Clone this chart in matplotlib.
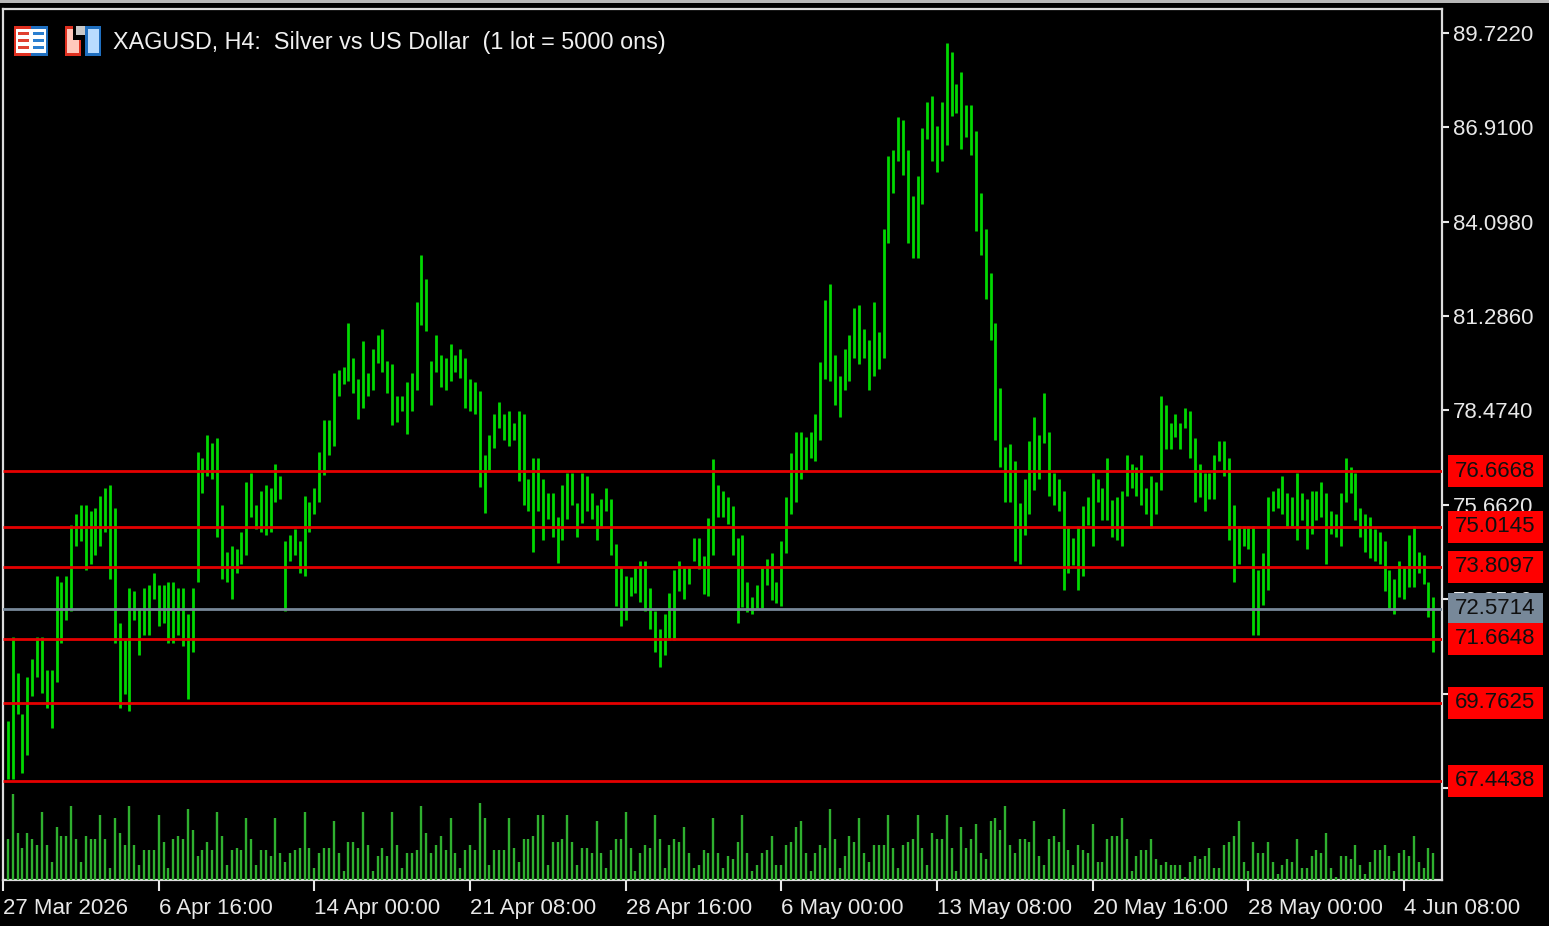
import numpy as np
import matplotlib
matplotlib.use('Agg')
import matplotlib.pyplot as plt
from matplotlib.patches import Rectangle

plt.rcParams['font.family'] = ['Liberation Sans', 'DejaVu Sans']

# H4 bar highs
high = [69.22, 71.71, 70.64, 69.43, 70.54, 71.08, 71.71, 71.71, 70.74, 70.74,
        73.54, 73.36, 73.54, 75.06, 75.39, 75.65, 75.65, 75.47, 75.56, 75.92,
        76.17, 76.26, 75.56, 72.13, 71.62, 73.19, 73.10, 72.58, 73.19, 73.28,
        73.62, 73.28, 73.28, 73.36, 73.36, 73.19, 73.19, 72.40, 73.19, 77.23,
        77.05, 77.75, 77.49, 77.66, 75.65, 74.25, 74.42, 74.34, 74.85, 76.35,
        76.61, 75.65, 76.08, 76.26, 76.17, 76.88, 76.53, 74.59, 74.77, 74.95,
        74.59, 75.92, 75.74, 76.17, 77.23, 78.19, 78.19, 79.60, 79.68, 79.76,
        81.08, 80.03, 79.41, 80.55, 79.58, 80.30, 80.72, 80.90, 79.94, 79.85,
        78.90, 78.90, 79.32, 79.59, 81.70, 83.10, 82.39, 79.94, 80.72, 80.12,
        80.03, 80.46, 80.12, 80.30, 80.03, 79.41, 79.32, 79.06, 77.14, 77.74,
        78.37, 78.72, 78.37, 78.45, 78.10, 78.45, 78.37, 76.43, 77.05, 77.05,
        76.43, 76.00, 76.00, 75.31, 76.25, 76.61, 76.61, 75.73, 76.61, 76.52,
        76.00, 75.66, 75.83, 76.17, 75.83, 74.50, 73.82, 73.54, 73.52, 73.82,
        73.98, 73.98, 73.19, 72.50, 71.97, 72.41, 73.02, 73.72, 73.98, 73.82,
        73.82, 74.68, 74.68, 74.13, 75.26, 77.04, 76.25, 76.08, 75.90, 75.64,
        74.66, 74.76, 73.35, 72.92, 73.26, 73.80, 74.05, 74.23, 73.35, 74.57,
        75.90, 77.22, 77.83, 77.83, 77.67, 77.83, 78.36, 79.93, 81.78, 82.23,
        80.12, 79.50, 80.30, 80.73, 81.52, 81.62, 80.91, 80.56, 81.70, 80.82,
        83.88, 86.07, 86.25, 87.23, 87.13, 86.25, 84.86, 85.46, 86.88, 87.67,
        87.84, 86.96, 87.67, 89.42, 89.16, 88.20, 88.55, 87.58, 87.58, 86.79,
        84.94, 83.88, 82.57, 81.09, 79.14, 77.39, 77.48, 76.96, 75.72, 76.43,
        77.57, 78.27, 77.74, 78.98, 77.84, 76.62, 76.43, 76.08, 75.03, 74.68,
        75.03, 75.64, 75.90, 76.62, 76.43, 76.17, 77.05, 75.80, 75.90, 76.08,
        77.14, 76.88, 76.78, 77.14, 76.17, 76.52, 76.35, 78.90, 78.63, 78.09,
        78.37, 78.09, 78.54, 78.46, 77.66, 76.88, 76.62, 76.62, 77.14, 77.57,
        77.57, 77.05, 75.65, 75.03, 75.03, 75.03, 75.03, 73.72, 74.24, 75.90,
        76.08, 76.17, 76.52, 76.00, 75.90, 76.62, 76.00, 75.82, 76.08, 76.08,
        76.35, 76.00, 75.48, 75.39, 76.00, 77.05, 76.78, 76.62, 75.57, 75.39,
        75.31, 74.95, 74.86, 74.59, 73.72, 73.45, 73.99, 73.82, 74.77, 75.04,
        74.25, 74.17, 73.37, 72.92]

low = [67.48, 67.48, 69.43, 67.68, 68.21, 69.95, 70.54, 70.05, 69.60, 69.01,
       70.39, 71.54, 72.23, 72.49, 74.42, 74.59, 73.72, 73.90, 74.17, 74.42,
       74.86, 73.46, 71.54, 69.60, 70.03, 69.52, 72.23, 71.18, 71.78, 71.78,
       72.85, 72.06, 72.15, 71.54, 71.54, 71.78, 71.44, 69.87, 71.27, 73.37,
       76.00, 76.53, 76.44, 74.69, 73.46, 73.37, 72.85, 73.64, 73.90, 74.17,
       75.30, 74.95, 74.86, 74.77, 74.86, 75.74, 75.83, 72.49, 73.98, 74.17,
       73.64, 73.55, 74.86, 75.39, 75.74, 76.55, 77.15, 77.41, 78.90, 79.26,
       79.34, 79.00, 78.21, 78.56, 78.91, 79.08, 79.88, 79.61, 79.00, 78.04,
       78.12, 78.47, 77.77, 78.47, 79.09, 81.02, 80.84, 78.65, 79.61, 79.17,
       79.09, 79.35, 79.61, 79.44, 78.56, 78.47, 78.38, 76.19, 75.41, 76.70,
       77.34, 77.94, 77.59, 77.41, 77.59, 76.37, 75.66, 75.49, 74.27, 75.49,
       74.61, 75.23, 74.69, 73.92, 74.61, 75.23, 75.66, 74.70, 75.13, 75.49,
       75.23, 74.61, 74.96, 75.49, 74.18, 72.66, 72.06, 72.23, 72.94, 73.02,
       72.76, 72.50, 71.97, 71.28, 70.84, 71.19, 71.63, 71.63, 73.10, 72.85,
       73.29, 74.00, 73.74, 73.01, 72.93, 74.16, 75.29, 75.29, 75.10, 74.16,
       72.15, 72.62, 72.48, 72.41, 72.60, 72.60, 73.27, 72.83, 72.74, 72.66,
       74.23, 75.38, 75.74, 76.43, 76.67, 77.06, 76.96, 77.59, 79.41, 79.34,
       78.63, 78.29, 79.08, 79.34, 80.03, 79.86, 80.03, 79.08, 79.51, 79.70,
       80.04, 83.47, 84.95, 85.92, 85.48, 83.47, 83.03, 83.03, 84.62, 86.55,
       85.92, 85.57, 85.92, 86.37, 87.24, 87.33, 86.27, 86.63, 86.10, 83.82,
       83.11, 81.79, 80.56, 77.59, 76.78, 75.74, 75.74, 73.98, 73.90, 74.77,
       75.38, 76.09, 76.43, 77.51, 75.92, 75.66, 75.49, 73.12, 73.64, 73.87,
       73.12, 73.55, 75.06, 74.43, 75.74, 75.21, 75.21, 74.69, 74.61, 74.43,
       75.93, 76.17, 75.93, 75.66, 75.39, 74.96, 75.39, 76.10, 77.32, 77.32,
       77.67, 77.32, 77.94, 77.05, 75.76, 75.90, 75.48, 75.82, 75.82, 76.97,
       76.52, 74.61, 73.37, 73.89, 74.43, 74.34, 71.78, 71.78, 72.67, 73.12,
       75.48, 75.56, 75.39, 74.96, 75.04, 74.60, 75.21, 74.34, 74.78, 75.21,
       75.29, 73.89, 74.78, 74.69, 74.43, 75.74, 76.00, 75.21, 74.69, 74.25,
       74.07, 73.99, 73.90, 73.10, 72.60, 72.41, 72.92, 72.85, 73.20, 73.20,
       73.64, 73.29, 72.33, 71.27]

volume = [14, 29, 16, 11, 16, 14, 12, 23, 12, 6, 18, 15, 15, 25, 14, 6, 15, 14, 14, 22,
          14, 4, 21, 16, 12, 25, 12, 5, 10, 10, 10, 22, 13, 4, 14, 15, 14, 24, 17, 8,
          10, 13, 10, 23, 15, 5, 10, 11, 10, 21, 14, 5, 10, 10, 8, 21, 9, 6, 9, 10,
          11, 23, 11, 4, 9, 11, 11, 20, 9, 3, 13, 13, 11, 23, 12, 3, 8, 11, 8, 23,
          12, 4, 9, 9, 10, 25, 16, 9, 12, 15, 10, 21, 9, 4, 10, 12, 10, 26, 21, 5,
          10, 10, 10, 21, 11, 6, 14, 14, 15, 22, 22, 5, 13, 13, 14, 22, 13, 5, 11, 11,
          9, 20, 9, 4, 10, 14, 14, 23, 11, 3, 9, 12, 11, 22, 14, 4, 12, 14, 13, 18,
          9, 4, 5, 10, 9, 21, 9, 4, 8, 7, 13, 22, 9, 3, 5, 9, 10, 15, 5, 5,
          12, 13, 18, 20, 9, 3, 9, 12, 11, 24, 14, 4, 8, 15, 13, 21, 9, 6, 12, 12,
          12, 22, 11, 4, 12, 13, 14, 22, 11, 5, 16, 14, 14, 22, 11, 3, 18, 11, 14, 19,
          9, 7, 20, 21, 17, 25, 12, 9, 14, 14, 13, 20, 8, 5, 14, 15, 13, 24, 10, 5,
          12, 10, 9, 19, 6, 6, 14, 15, 15, 21, 14, 3, 8, 10, 10, 14, 7, 5, 6, 5,
          5, 5, 1, 6, 8, 7, 8, 11, 4, 4, 12, 13, 15, 20, 6, 3, 13, 9, 9, 13,
          6, 2, 5, 7, 6, 14, 4, 4, 8, 10, 9, 16, 4, 1, 8, 8, 7, 12, 5, 2,
          6, 10, 10, 12, 8, 3, 9, 10, 8, 15, 6, 4, 11, 9]

levels = [76.6668, 75.0145, 73.8097, 71.6648, 69.7625, 67.4438]
last_price = 72.5714
price_ticks = [89.7220, 86.9100, 84.0980, 81.2860, 78.4740, 75.6620, 72.8500, 70.0380, 67.2260]
time_ticks = [0, 32, 64, 96, 128, 160, 192, 224, 256, 288]
time_labels = ['27 Mar 2026', '6 Apr 16:00', '14 Apr 00:00', '21 Apr 08:00', '28 Apr 16:00',
               '6 May 00:00', '13 May 08:00', '20 May 16:00', '28 May 00:00', '4 Jun 08:00']

W, H = 1549, 926
bars = np.arange(1, len(high) + 1)

fig = plt.figure(figsize=(W / 100, H / 100), dpi=100, facecolor='black')
pos = [3 / W, (H - 880) / H, 1439 / W, 871 / H]
ax = fig.add_axes(pos, facecolor='black')
ax.set_xlim(0.1, 295.8)
ax.set_ylim(64.481, 90.437)

frame = '#dcdcdc'
ax.vlines(bars, low, high, color='#00d800', lw=2.0, zorder=2)
ax.hlines(levels, 0, 300, color='#e60000', lw=2.0, zorder=3)
ax.axhline(last_price, color='#778899', lw=2.0, zorder=3)

for s in ax.spines.values():
    s.set_color(frame)
    s.set_linewidth(1.6)

ax.yaxis.tick_right()
ax.set_yticks(price_ticks)
ax.set_yticklabels(['%.4f' % p for p in price_ticks])
ax.tick_params(axis='y', colors='#e8e8e8', length=5, width=1.5, pad=3, labelsize=16)
ax.set_xticks(time_ticks)
ax.set_xticklabels(time_labels, ha='left')
ax.tick_params(axis='x', colors='#e8e8e8', length=8, width=1.5, pad=5, labelsize=16)

# price tags on the right, same pixel size each
box_x = 1445 / 1439
box_w = 95 / 1439
box_h = 32 * 0.0298
tags = [(last_price, '#778899')] + [(p, '#ff0000') for p in levels]
for p, c in tags:
    ax.add_patch(Rectangle((box_x, p - box_h / 2), box_w, box_h, transform=ax.get_yaxis_transform(),
                           facecolor=c, edgecolor='none', clip_on=False, zorder=5))
    ax.text(box_x + 47 / 1439, p, '%.4f' % p, transform=ax.get_yaxis_transform(), ha='center', va='center',
            color='#101010', fontsize=16, clip_on=False, zorder=6)

# volume sits in the bottom of the same plot
ax2 = fig.add_axes(pos)
ax2.patch.set_visible(False)
ax2.axis('off')
ax2.set_xlim(ax.get_xlim())
ax2.set_ylim(0, 295)
ax2.vlines(bars, 0, volume, color='#2fb02f', lw=1.7)


def px_rect(x, y, w, h, color):
    fig.add_artist(Rectangle((x / W, 1 - (y + h) / H), w / W, h / H, transform=fig.transFigure,
                             facecolor=color, edgecolor='none'))


px_rect(0, 0, W, 2.5, '#b8b8b8')

# the two little toolbar icons next to the symbol name
px_rect(14, 26, 17, 30, '#e03020')
px_rect(31, 26, 17, 30, '#1f6fc0')
px_rect(16, 29, 30, 24, '#ffffff')
for row in [32, 39, 46]:
    px_rect(18, row, 11, 3, '#e04030')
    px_rect(33, row, 11, 3, '#2a7fd0')
px_rect(65, 26, 16, 30, '#e03020')
px_rect(67, 29, 12, 24, '#ffc8bc')
px_rect(73, 26, 10, 14, '#000000')
px_rect(76, 26, 9, 9, '#c8c8c8')
px_rect(85, 26, 16, 30, '#1f6fc0')
px_rect(88, 29, 11, 24, '#b8dcff')
px_rect(81, 40, 4, 16, '#000000')

fig.text(113 / W, 1 - 43 / H, 'XAGUSD, H4:  Silver vs US Dollar  (1 lot = 5000 ons)', color='#f0f0f0',
         fontsize=16.8, ha='left', va='center')

fig.savefig('out.png', dpi=100, facecolor='black')
